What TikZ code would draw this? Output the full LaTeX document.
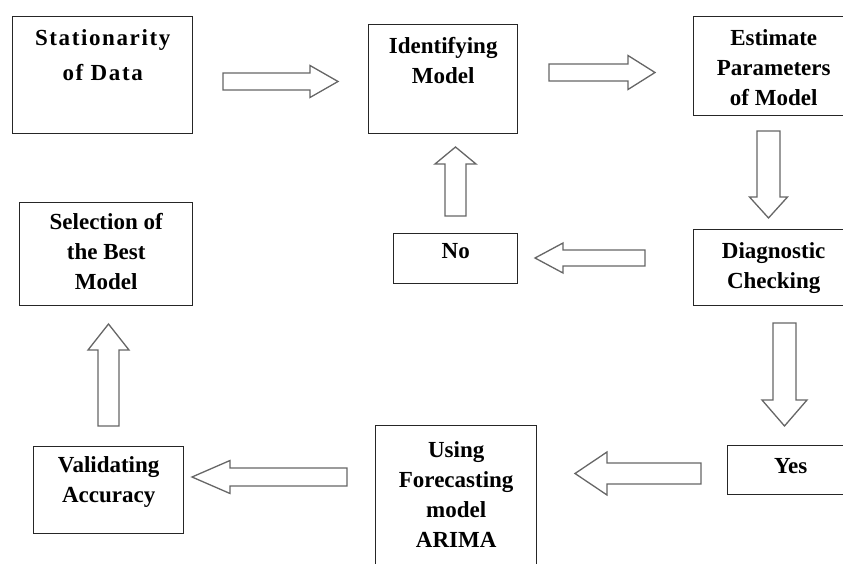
\documentclass[tikz,border=0pt]{standalone}
\usepackage{fontspec}
\setmainfont{Liberation Serif}
\newfontfamily\espacefont{Liberation Serif}[LetterSpace=7]
\usetikzlibrary{calc}

\tikzset{etape/.style = {draw=black!85, rectangle, line width=1.4pt, anchor=north west,
                         minimum width = #1, minimum height = 50pt
                        },
         etape/.default=150pt,
         fleche/.style = {draw=black!60, line width=1.3pt, fill=white, line join=miter}
        }

% #1 from, #2 to, #3 half shaft, #4 half head, #5 head length
\newcommand\grossefleche[5]{%
  \coordinate (tete) at ($(#2)!#5!(#1)$);
  \draw[fleche] ($(#1)!#3!90:(#2)$) -- ($(tete)!#3!90:(#2)$) -- ($(tete)!#4!90:(#2)$)
        -- (#2) -- ($(tete)!#4!-90:(#2)$) -- ($(tete)!#3!-90:(#2)$)
        -- ($(#1)!#3!-90:(#2)$) -- cycle;}

\begin{document}
\begin{tikzpicture}[x=1pt,y=-1pt,inner sep=0pt]
  \tikzstyle{every label}=[anchor=north, align=center,
                           font=\bfseries\fontsize{23}{30}\selectfont]
  \useasboundingbox (0,0) rectangle (843,564);
  \clip (0,0) rectangle (843,564);

  \node[etape=180pt, minimum height=117pt,
        label={[yshift=-13pt, font=\espacefont\bfseries\fontsize{23}{35}\selectfont]north:{Stationarity\\of Data}}] (stat) at (12,16) {};
  \node[etape=149pt, minimum height=109pt, label={[yshift=-13pt]north:{Identifying\\Model}}] (ident) at (368,24) {};
  \node[etape=160pt, minimum height=99pt, label={[yshift=-13pt]north:{Estimate\\Parameters\\of Model}}] (estim) at (693,16) {};
  \node[etape=160pt, minimum height=76pt, label={[yshift=-13pt]north:{Diagnostic\\Checking}}] (diag) at (693,229) {};
  \node[etape=124pt, label={[yshift=-10pt]north:No}] (non) at (393,233) {};
  \node[etape=173pt, minimum height=103pt, label={[yshift=-11.5pt]north:{Selection of\\the Best\\Model}}] (select) at (19,202) {};
  \node[etape=150pt, minimum height=87pt, label={[yshift=-10.5pt]north:{Validating\\Accuracy}}] (valid) at (33,446) {};
  \node[etape=161pt, minimum height=160pt, label={[yshift=-16pt]north:{Using\\Forecasting\\model\\ARIMA}}] (prevision) at (375,425) {};
  \node[etape=126pt, minimum height=49pt, label={[yshift=-13pt]north:Yes}] (oui) at (727,445) {};

  \coordinate (stat-d) at (223,81.5);   \coordinate (ident-a) at (338,81.5);
  \coordinate (ident-d) at (549,72.5);  \coordinate (estim-a) at (655,72.5);
  \coordinate (estim-d) at (768.5,131); \coordinate (diag-a) at (768.5,218);
  \coordinate (diag-g) at (645,258);    \coordinate (non-a) at (535,258);
  \coordinate (non-d) at (455.5,216);   \coordinate (ident-b) at (455.5,147);
  \coordinate (diag-b) at (784.5,323);  \coordinate (oui-a) at (784.5,426);
  \coordinate (oui-d) at (701,473.5);   \coordinate (prev-a) at (575,473.5);
  \coordinate (prev-d) at (347,477);    \coordinate (valid-a) at (192,477);
  \coordinate (valid-d) at (108.5,426); \coordinate (select-a) at (108.5,324);

  \grossefleche{stat-d}{ident-a}{8.5pt}{16pt}{28pt}
  \grossefleche{ident-d}{estim-a}{8.5pt}{17pt}{27pt}
  \grossefleche{estim-d}{diag-a}{11.5pt}{19pt}{21pt}
  \grossefleche{diag-g}{non-a}{8pt}{15pt}{28pt}
  \grossefleche{non-d}{ident-b}{10.5pt}{20.5pt}{17pt}
  \grossefleche{diag-b}{oui-a}{11.5pt}{22.5pt}{26pt}
  \grossefleche{oui-d}{prev-a}{10.5pt}{21.5pt}{32pt}
  \grossefleche{prev-d}{valid-a}{9pt}{16.5pt}{38pt}
  \grossefleche{valid-d}{select-a}{10.5pt}{20.5pt}{26pt}
\end{tikzpicture}
\end{document}
